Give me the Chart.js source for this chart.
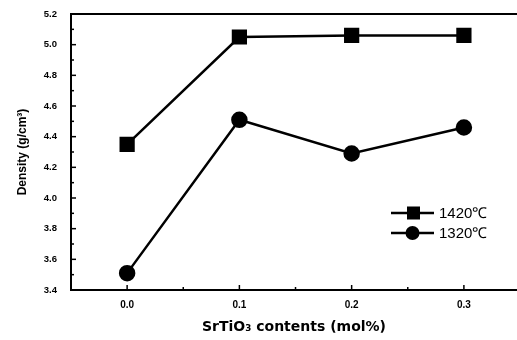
<!DOCTYPE html>
<html><head><meta charset="utf-8">
<script src="https://cdn.jsdelivr.net/npm/chart.js@4/dist/chart.umd.min.js"></script>
<style>html,body{margin:0;padding:0;background:#fff;overflow:hidden;width:517px;height:340px}</style>
</head><body><canvas id="c" width="517" height="340"></canvas>
<script>
const categories = [0.0, 0.1, 0.2, 0.3];
const density1420 = [4.35, 5.05, 5.06, 5.06];
const density1320 = [3.51, 4.51, 4.29, 4.46];
const seriesNames = ['1420\u2103', '1320\u2103'];
const xTicks = [0.0, 0.1, 0.2, 0.3];
const yTicks = [3.4, 3.6, 3.8, 4.0, 4.2, 4.4, 4.6, 4.8, 5.0, 5.2];

const FONT = 'Liberation Sans, Arial, sans-serif';
const TFONT = 'DejaVu Sans, sans-serif';

const framePlugin = {
  id: 'frame',
  afterDraw(chart) {
    const ctx = chart.ctx, a = chart.chartArea;
    const xs = chart.scales.x, ys = chart.scales.y;
    ctx.save();
    ctx.strokeStyle = '#000';
    ctx.lineWidth = 2;
    ctx.beginPath();
    ctx.moveTo(a.right + 2, a.top);
    ctx.lineTo(a.left, a.top);
    ctx.lineTo(a.left, a.bottom);
    ctx.lineTo(a.right + 2, a.bottom);
    ctx.stroke();
    ctx.lineWidth = 1.5;
    for (let v = 3.4; v <= 5.2001; v += 0.1) {
      const y = ys.getPixelForValue(v);
      const major = Math.abs(Math.round(v * 10) % 2) === 0;
      ctx.beginPath();
      ctx.moveTo(a.left, y);
      ctx.lineTo(a.left + (major ? 5 : 3), y);
      ctx.stroke();
    }
    for (let v = 0; v <= 0.3001; v += 0.05) {
      const x = xs.getPixelForValue(v);
      const major = Math.abs(Math.round(v * 20) % 2) === 0;
      ctx.beginPath();
      ctx.moveTo(x, a.bottom);
      ctx.lineTo(x, a.bottom - (major ? 5 : 3));
      ctx.stroke();
    }
    const items = [
      {ds: chart.data.datasets[0], y: 213},
      {ds: chart.data.datasets[1], y: 233}
    ];
    items.forEach(it => {
      ctx.lineWidth = 2.5;
      ctx.beginPath();
      ctx.moveTo(391, it.y); ctx.lineTo(434, it.y); ctx.stroke();
      ctx.fillStyle = '#000';
      if (it.ds.pointStyle === 'rect') {
        ctx.fillRect(407, it.y - 6.5, 13, 13);
      } else {
        ctx.beginPath(); ctx.arc(412.5, it.y, 7, 0, Math.PI * 2); ctx.fill();
      }
      ctx.font = '15px ' + FONT;
      ctx.textBaseline = 'middle';
      ctx.textAlign = 'left';
      ctx.fillText(it.ds.label, 439, it.y + 1);
    });
    ctx.restore();
  }
};

new Chart(document.getElementById('c'), {
  type: 'line',
  data: {
    datasets: [
      {label: seriesNames[0], data: categories.map((x, i) => ({x, y: density1420[i]})),
       borderColor: '#000', backgroundColor: '#000', borderWidth: 2.5,
       pointStyle: 'rect', pointRadius: 9, pointHoverRadius: 9},
      {label: seriesNames[1], data: categories.map((x, i) => ({x, y: density1320[i]})),
       borderColor: '#000', backgroundColor: '#000', borderWidth: 2.5,
       pointStyle: 'circle', pointRadius: 7, pointHoverRadius: 7}
    ]
  },
  options: {
    responsive: false,
    animation: false,
    events: [],
    clip: false,
    layout: {autoPadding: false, padding: {top: 14, right: 0, left: 0, bottom: 0}},
    plugins: {legend: {display: false}, tooltip: {enabled: false}},
    scales: {
      x: {
        type: 'linear', min: -0.05, max: 0.3473,
        afterBuildTicks: s => { s.ticks = xTicks.map(v => ({value: v})); },
        afterFit: s => { s.height = 50; s.paddingLeft = 0; s.paddingRight = 0; },
        grid: {display: false, drawTicks: false},
        border: {display: false},
        ticks: {color: '#000', font: {family: FONT, size: 10, weight: 'bold'}, padding: 9,
                callback: v => v.toFixed(1), maxRotation: 0},
        title: {display: true, text: 'SrTiO\u2083 contents (mol%)', color: '#000',
                font: {family: TFONT, size: 14, weight: 'bold'}, padding: {top: 3}}
      },
      y: {
        min: 3.4, max: 5.2,
        afterBuildTicks: s => { s.ticks = yTicks.map(v => ({value: v})); },
        afterFit: s => { s.width = 71; s.paddingTop = 0; s.paddingBottom = 0; },
        grid: {display: false, drawTicks: false},
        border: {display: false},
        ticks: {color: '#000', font: {family: FONT, size: 9.5, weight: 'bold'}, padding: 14,
                callback: v => v.toFixed(1)},
        title: {display: true, text: 'Density (g/cm\u00B3)', color: '#000',
                font: {family: FONT, size: 12, weight: 'bold'}, padding: {top: 15, bottom: 5}}
      }
    }
  },
  plugins: [framePlugin]
});
</script></body></html>
